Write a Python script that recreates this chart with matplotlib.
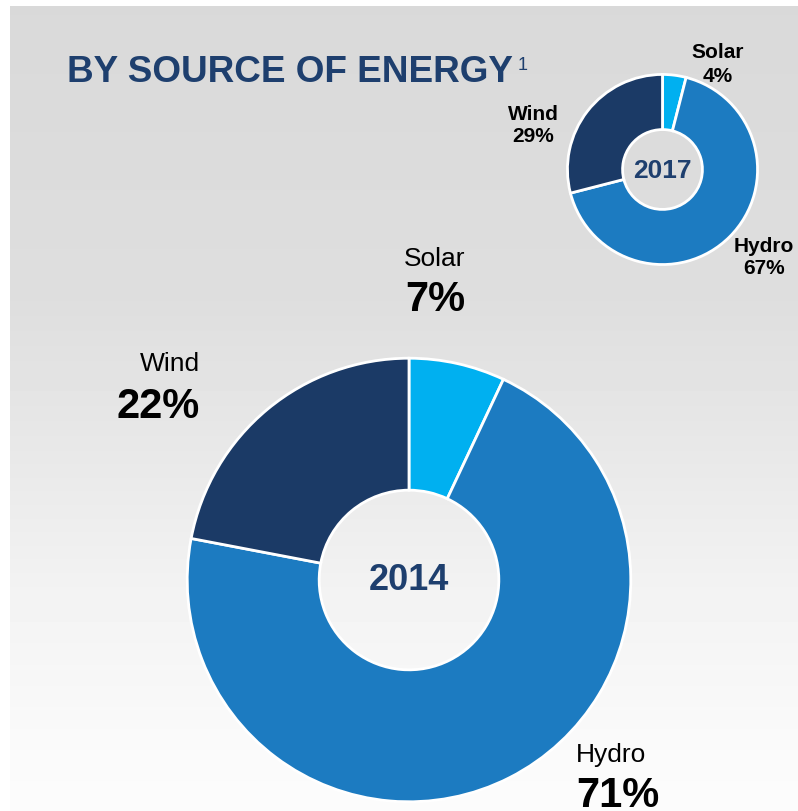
import numpy as np
import matplotlib
matplotlib.use("Agg")
import matplotlib.pyplot as plt

plt.rcParams['font.family'] = ['Liberation Sans', 'DejaVu Sans']

# data
sources = ["Solar", "Hydro", "Wind"]
share_2014 = [7, 71, 22]
share_2017 = [4, 67, 29]
colors = ["#00B0F0", "#1C7BC1", "#1B3A66"]
navy = "#1E3F6E"

W, H = 798, 812
fig = plt.figure(figsize=(W / 100, H / 100), dpi=100)
fig.patch.set_facecolor("white")


def px(x, y):
    # pixel coords (top-left origin) -> figure fraction
    return x / W, 1 - y / H


# gray panel with vertical gradient
bg = fig.add_axes([10 / W, 0, 1 - 10 / W, 1 - 7 / H])
rows = np.arange(7, H)
shade = np.interp(rows, [7, 300, 450, 600, 750, 812], [217, 222, 232, 243, 250, 252]) / 255
grad = np.repeat(shade[:, None], 2, axis=1)
bg.imshow(grad, cmap="gray", vmin=0, vmax=1, aspect="auto", extent=[0, 1, 0, 1])
bg.set_axis_off()


def donut(cx, cy, r, values, hole, lw):
    ax = fig.add_axes([(cx - r) / W, 1 - (cy + r) / H, 2 * r / W, 2 * r / H])
    ax.pie(values, colors=colors, startangle=90, counterclock=False,
           wedgeprops=dict(width=1 - hole, edgecolor="white", linewidth=lw))
    ax.set_xlim(-1.01, 1.01)
    ax.set_ylim(-1.01, 1.01)
    ax.set_axis_off()
    return ax


ax1 = donut(409, 581, 224, share_2014, 0.405, 2)
ax1.text(0, 0, "2014", ha="center", va="center", fontsize=26, fontweight="bold", color=navy)

ax2 = donut(662.5, 170.5, 96, share_2017, 0.42, 2)
ax2.text(0, 0, "2017", ha="center", va="center", fontsize=19, fontweight="bold", color=navy)

# title
fig.text(*px(67, 82), "BY SOURCE OF ENERGY", fontsize=26.6, fontweight="bold",
         color=navy, ha="left", va="baseline")
fig.text(*px(518, 70), "1", fontsize=13, color=navy, ha="left", va="baseline")

# labels 2014
big_pos = {"Solar": (435, 259, 300, "center"),
           "Wind": (200, 364, 407, "right"),
           "Hydro": (576, 755, 796, "left")}
for name, val in zip(sources, share_2014):
    x, y1, y2, ha = big_pos[name]
    fig.text(*px(x, y1), name, fontsize=19, ha=ha, va="center", color="black")
    fig.text(*px(x, y2), f"{val}%", fontsize=30, fontweight="bold", ha=ha, va="center", color="black")

# labels 2017
small_pos = {"Solar": (718, 52.5, 76),
             "Wind": (533, 114.5, 136.5),
             "Hydro": (764, 246, 269)}
for name, val in zip(sources, share_2017):
    x, y1, y2 = small_pos[name]
    fig.text(*px(x, y1), name, fontsize=15, fontweight="bold", ha="center", va="center", color="black")
    fig.text(*px(x, y2), f"{val}%", fontsize=15, fontweight="bold", ha="center", va="center", color="black")

fig.savefig("out.png", dpi=100)
